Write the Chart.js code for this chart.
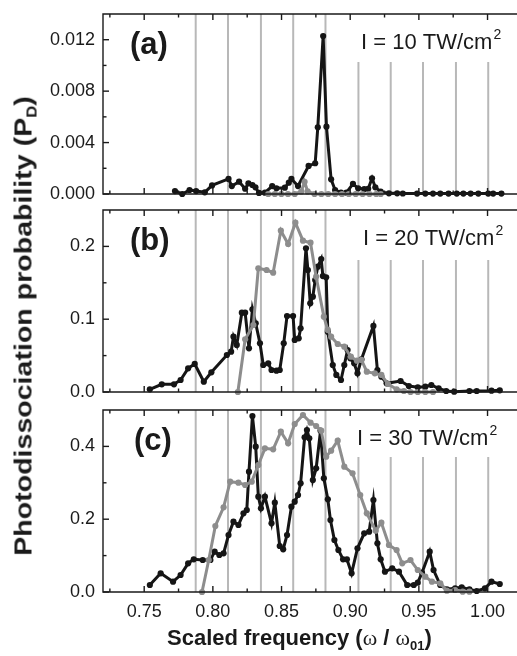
<!DOCTYPE html>
<html>
<head>
<meta charset="utf-8">
<script src="https://cdn.jsdelivr.net/npm/chart.js@4.4.0/dist/chart.umd.min.js"></script>
<style>
  html, body { margin: 0; padding: 0; background: #fff; overflow: hidden; }
  #wrap { position: relative; width: 517px; height: 656px; overflow: hidden; }
  canvas { position: absolute; left: 0; }
  .axis-title {
    position: absolute;
    font-family: "Liberation Sans", Arial, Helvetica, sans-serif;
    font-weight: bold;
    color: #1a1a1a;
    white-space: nowrap;
    line-height: 1;
  }
  .omega { font-family: "Liberation Serif", "Times New Roman", serif; font-weight: normal; }
  #xtitle { left: 167px; top: 627px; font-size: 22px; }
  #xtitle sub { font-size: 13px; vertical-align: -5px; }
  #ytitle {
    left: 25px; top: 326px; font-size: 24px;
    transform: translate(-50%, -50%) rotate(-90deg) scaleX(1.19);
  }
  #ytitle sub { font-size: 14px; vertical-align: -5px; }
</style>
</head>
<body>
<div id="wrap">
  <canvas id="panelA" width="519" height="208" style="top:0"></canvas>
  <canvas id="panelB" width="519" height="212" style="top:196px"></canvas>
  <canvas id="panelC" width="519" height="260" style="top:396px"></canvas>
  <div id="ytitle" class="axis-title">Photodissociation probability (P<sub>D</sub>)</div>
  <div id="xtitle" class="axis-title">Scaled frequency (<span class="omega">ω</span> / <span class="omega">ω</span><sub>01</sub>)</div>
</div>
<script>
const FONT = '"Liberation Sans", Arial, Helvetica, sans-serif';
const BLACK = "#151515";
const GRAY = "#8d8d8d";

// axis ticks
const xTicks = [0.75, 0.8, 0.85, 0.9, 0.95, 1.0];
const xMinorTicks = [0.725, 0.775, 0.825, 0.875, 0.925, 0.975];
const yTicksA = [0, 0.004, 0.008, 0.012];
const yMinorA = [0.002, 0.006, 0.01];
const yTicksB = [0, 0.1, 0.2];
const yMinorB = [0.05, 0.15];
const yTicksC = [0, 0.2, 0.4];
const yMinorC = [0.1, 0.3];

// vertical reference lines (scaled frequency)
const resonances = [0.7875, 0.811, 0.835, 0.8585, 0.882, 0.906, 0.9295, 0.953, 0.977, 1.0005];

// (a) I = 10 TW/cm2 : [frequency, probability]
const blackA = [
  [0.7724, 0.00023], [0.7777, 0.0], [0.783, 0.00031], [0.7878, 0.00023], [0.7941, 0.00013],
  [0.7994, 0.00067], [0.8114, 0.00117], [0.8138, 0.00062], [0.8191, 0.00096], [0.8235, 0.00041],
  [0.8259, 0.00083], [0.8288, 0.0007], [0.831, 0.00052], [0.8336, 0.00008], [0.8379, 0.0001],
  [0.8432, 0.00062], [0.8463, 0.00044], [0.8524, 0.00049], [0.8553, 0.00088], [0.8572, 0.00117],
  [0.862, 0.00062], [0.8697, 0.00218], [0.8745, 0.00239], [0.8764, 0.00519], [0.8803, 0.01229],
  [0.8827, 0.00524], [0.8861, 0.00114], [0.889, 0.00031], [0.8933, 0.0001], [0.8972, 0.0001],
  [0.902, 0.00078], [0.9058, 0.00044], [0.9102, 0.00039], [0.9131, 0.00041], [0.9159, 0.00122],
  [0.9183, 0.00052], [0.9222, 0.00018], [0.9282, 0.00005], [0.9342, 0.00005], [0.9383, 0.00004],
  [0.9487, 0.00003], [0.9547, 0.00003], [0.9603, 0.00003], [0.9656, 0.00003], [0.9716, 0.00003],
  [0.9776, 0.00003], [0.9824, 0.00003], [0.9877, 0.00003], [0.9933, 0.00003], [1.0005, 0.00003],
  [1.0041, 0.00003], [1.0101, 0.00003]
];
const grayA = [
  [0.8403, 0], [0.8451, 0], [0.8499, 0], [0.8547, 0], [0.8596, 0], [0.8644, 0.0002],
  [0.8668, 0.00095], [0.869, 0.0002], [0.874, 0], [0.879, 0], [0.884, 0], [0.889, 0],
  [0.894, 0], [0.899, 0], [0.904, 0], [0.909, 0], [0.914, 0], [0.919, 0], [0.9222, 0]
];

// (b) I = 20 TW/cm2
const blackB = [
  [0.7541, 0.0037], [0.7628, 0.0105], [0.7717, 0.0105], [0.7765, 0.0165], [0.782, 0.0325],
  [0.7868, 0.0385], [0.7934, 0.0142], [0.7989, 0.027], [0.8102, 0.0508], [0.8133, 0.0554],
  [0.815, 0.076], [0.8174, 0.0646], [0.8211, 0.109], [0.8235, 0.109], [0.8263, 0.06],
  [0.8288, 0.1136], [0.8312, 0.0943], [0.8343, 0.0668], [0.8367, 0.0371], [0.8403, 0.0394],
  [0.8427, 0.0302], [0.8463, 0.0293], [0.8487, 0.0302], [0.8516, 0.0668], [0.854, 0.1044],
  [0.8584, 0.1044], [0.8596, 0.0714], [0.8625, 0.0737], [0.8639, 0.0875], [0.8678, 0.1973],
  [0.8692, 0.1676], [0.8709, 0.1218], [0.8728, 0.131], [0.8745, 0.1538], [0.8764, 0.1722],
  [0.8789, 0.1827], [0.8801, 0.1593], [0.8825, 0.1575], [0.8837, 0.0829], [0.8873, 0.0371],
  [0.8899, 0.0234], [0.8933, 0.0165], [0.8957, 0.0371], [0.8981, 0.0577], [0.9001, 0.0462],
  [0.9029, 0.0394], [0.9053, 0.0256], [0.9082, 0.0449], [0.9169, 0.0907], [0.9198, 0.0302],
  [0.9227, 0.0211], [0.9265, 0.0119], [0.9367, 0.0151], [0.9427, 0.0082], [0.9492, 0.0064],
  [0.9547, 0.0073], [0.9591, 0.0096], [0.9644, 0.005], [0.9699, 0.0014], [0.9757, 0.0005],
  [0.9868, 0.0014], [0.9921, 0.0014], [1.0029, 0.0018], [1.0089, 0.0023]
];
const grayB = [
  [0.8182, 0], [0.8235, 0.0723], [0.8295, 0.092], [0.8331, 0.1699], [0.8391, 0.1676],
  [0.8439, 0.1639], [0.8495, 0.2216], [0.8548, 0.2033], [0.8601, 0.2326], [0.8656, 0.2079],
  [0.8711, 0.2051], [0.8752, 0.1584], [0.8808, 0.1035], [0.8837, 0.0852], [0.8861, 0.076],
  [0.8909, 0.0659], [0.8957, 0.0623], [0.9005, 0.0485], [0.9049, 0.043], [0.9082, 0.044],
  [0.9121, 0.0279], [0.9179, 0.0256], [0.9227, 0.0234], [0.9275, 0.011], [0.9338, 0.0037],
  [0.9391, 0.0014], [0.9439, 0], [0.9492, 0], [0.9547, 0], [0.9603, 0]
];

// (c) I = 30 TW/cm2
const blackC = [
  [0.7541, 0.0192], [0.762, 0.0513], [0.771, 0.0284], [0.7765, 0.0467], [0.782, 0.0788],
  [0.7861, 0.0897], [0.7926, 0.0879], [0.7982, 0.0879], [0.8013, 0.1108], [0.8047, 0.1016],
  [0.8078, 0.1062], [0.8114, 0.1566], [0.815, 0.1932], [0.8186, 0.1841], [0.8223, 0.2161],
  [0.8247, 0.2253], [0.8263, 0.3306], [0.8288, 0.4835], [0.8312, 0.3993], [0.8331, 0.2619],
  [0.835, 0.2299], [0.8379, 0.2619], [0.8427, 0.1886], [0.8451, 0.2454], [0.8487, 0.1264],
  [0.8512, 0.1172], [0.854, 0.1566], [0.8572, 0.2344], [0.8596, 0.2482], [0.862, 0.2665],
  [0.8639, 0.2985], [0.8668, 0.4249], [0.8685, 0.4451], [0.8702, 0.4222], [0.8728, 0.3077],
  [0.8752, 0.3397], [0.8784, 0.4432], [0.8808, 0.3123], [0.8837, 0.2546], [0.8856, 0.1978],
  [0.8885, 0.1429], [0.8914, 0.1154], [0.8948, 0.0897], [0.8976, 0.0897], [0.901, 0.0513],
  [0.9053, 0.12], [0.9102, 0.1612], [0.9138, 0.1658], [0.9169, 0.2527], [0.9198, 0.1337],
  [0.9222, 0.0897], [0.9253, 0.0559], [0.9306, 0.065], [0.9355, 0.0559], [0.9415, 0.0192],
  [0.9463, 0.0192], [0.9492, 0.0256], [0.9523, 0.0531], [0.9579, 0.1108], [0.9607, 0.0604],
  [0.9656, 0.0192], [0.9704, 0.0073], [0.9764, 0.0101], [0.9812, 0.0128], [0.9868, 0.0073],
  [0.9921, 0.0027], [0.9981, 0.0101], [1.0029, 0.0284], [1.0089, 0.022]
];
const grayC = [
  [0.7921, 0], [0.797, 0.0879], [0.8018, 0.1813], [0.8078, 0.2326], [0.8126, 0.3031],
  [0.8186, 0.3004], [0.8235, 0.294], [0.8283, 0.3031], [0.8331, 0.3489], [0.8379, 0.3947],
  [0.8439, 0.3919], [0.8495, 0.4405], [0.8548, 0.4084], [0.8596, 0.4615], [0.8656, 0.4863],
  [0.8711, 0.4652], [0.8752, 0.456], [0.8789, 0.4432], [0.8825, 0.3718], [0.8861, 0.3883],
  [0.8909, 0.4158], [0.8957, 0.3443], [0.9017, 0.326], [0.9073, 0.2665], [0.9121, 0.2161],
  [0.9186, 0.1685], [0.9227, 0.1905], [0.9282, 0.1291], [0.9338, 0.1154], [0.9379, 0.0788],
  [0.9439, 0.0879], [0.9492, 0.0604], [0.9547, 0.0421], [0.9595, 0.0284], [0.9656, 0.0238],
  [0.9704, 0.0037], [0.9764, 0.0055], [0.9819, 0.001], [0.9868, 0.001]
];

function line(ctx, x1, y1, x2, y2) {
  ctx.beginPath();
  ctx.moveTo(x1, y1);
  ctx.lineTo(x2, y2);
  ctx.stroke();
}

// frame, inward ticks, resonance lines and panel labels
function decor(cfg) {
  return {
    id: "decor",
    beforeDatasetsDraw(chart) {
      const { ctx, chartArea: a, scales } = chart;
      ctx.save();
      ctx.strokeStyle = "#b8b8b8";
      ctx.lineWidth = 2;
      resonances.forEach((v) => {
        const px = scales.x.getPixelForValue(v);
        const top = v > 0.9 ? a.top + cfg.gapBelow : a.top;
        line(ctx, px, top, px, a.bottom);
      });
      ctx.restore();
    },
    afterDatasetsDraw(chart) {
      const { ctx, chartArea: a, scales } = chart;
      const x = scales.x, y = scales.y;
      ctx.save();
      ctx.strokeStyle = "#1a1a1a";
      ctx.lineWidth = 1.4;
      ctx.beginPath();
      ctx.moveTo(a.right + 5, a.top);
      ctx.lineTo(a.left, a.top);
      ctx.lineTo(a.left, a.bottom);
      ctx.lineTo(a.right + 5, a.bottom);
      ctx.stroke();

      xTicks.forEach((v) => {
        const px = x.getPixelForValue(v);
        line(ctx, px, a.top, px, a.top + 6);
        line(ctx, px, a.bottom, px, a.bottom - 6);
      });
      xMinorTicks.forEach((v) => {
        const px = x.getPixelForValue(v);
        line(ctx, px, a.top, px, a.top + 3.5);
        line(ctx, px, a.bottom, px, a.bottom - 3.5);
      });
      cfg.yTicks.forEach((v) => {
        const py = y.getPixelForValue(v);
        line(ctx, a.left, py, a.left + 6, py);
      });
      cfg.yMinor.forEach((v) => {
        const py = y.getPixelForValue(v);
        line(ctx, a.left, py, a.left + 3.5, py);
      });

      ctx.fillStyle = "#1a1a1a";
      ctx.textBaseline = "alphabetic";
      ctx.textAlign = "left";
      ctx.font = "bold 31px " + FONT;
      ctx.fillText(cfg.tag, a.left + cfg.tagX, a.top + 40);

      ctx.font = "22px " + FONT;
      const txt = "I = " + cfg.intensity + " TW/cm";
      const tx = a.left + cfg.labelX;
      const ty = a.top + 35;
      ctx.fillText(txt, tx, ty);
      const w = ctx.measureText(txt).width;
      ctx.font = "14px " + FONT;
      ctx.fillText("2", tx + w + 1, ty - 10);
      ctx.restore();
    }
  };
}

function makePanel(id, cfg) {
  const pts = (arr) => arr.map((p) => ({ x: p[0], y: p[1] }));
  const series = (arr, color) => ({
    data: pts(arr),
    borderColor: color,
    backgroundColor: color,
    borderWidth: 3,
    pointRadius: 3.1,
    pointBorderWidth: 0,
    pointBackgroundColor: color,
    tension: 0,
    clip: false
  });
  return new Chart(document.getElementById(id), {
    type: "line",
    data: {
      datasets: [series(cfg.gray, GRAY), series(cfg.black, BLACK)]
    },
    options: {
      responsive: false,
      animation: false,
      events: [],
      layout: { padding: cfg.padding },
      plugins: { legend: { display: false }, tooltip: { enabled: false } },
      scales: {
        x: {
          type: "linear",
          min: 0.72,
          max: 1.02,
          display: cfg.showX,
          grid: { display: false, drawTicks: false },
          border: { display: false },
          ticks: {
            font: { family: FONT, size: 18 },
            color: "#1a1a1a",
            padding: 9,
            maxRotation: 0,
            callback: (v) => Number(v).toFixed(2)
          },
          afterBuildTicks: (s) => { s.ticks = xTicks.map((v) => ({ value: v })); },
          afterFit: (s) => {
            s.height = cfg.showX ? 40 : 0;
            s.paddingLeft = 0;
            s.paddingRight = 0;
          }
        },
        y: {
          type: "linear",
          min: 0,
          max: cfg.yMax,
          grid: { display: false, drawTicks: false },
          border: { display: false },
          ticks: {
            font: { family: FONT, size: 18 },
            color: "#1a1a1a",
            padding: 8,
            callback: (v) => Number(v).toFixed(cfg.digits)
          },
          afterBuildTicks: (s) => { s.ticks = cfg.yTicks.map((v) => ({ value: v })); },
          afterFit: (s) => {
            s.width = 103;
            s.paddingTop = 0;
            s.paddingBottom = 0;
          }
        }
      }
    },
    plugins: [decor(cfg)]
  });
}

makePanel("panelA", {
  black: blackA, gray: grayA, yMax: 0.014, yTicks: yTicksA, yMinor: yMinorA, digits: 3,
  tag: "(a)", tagX: 27, intensity: 10, labelX: 258, gapBelow: 48,
  showX: false, padding: { top: 14, bottom: 14, left: 0, right: 0 }
});
makePanel("panelB", {
  black: blackB, gray: grayB, yMax: 0.25, yTicks: yTicksB, yMinor: yMinorB, digits: 1,
  tag: "(b)", tagX: 27, intensity: 20, labelX: 260, gapBelow: 50,
  showX: false, padding: { top: 14, bottom: 16, left: 0, right: 0 }
});
makePanel("panelC", {
  black: blackC, gray: grayC, yMax: 0.5, yTicks: yTicksC, yMinor: yMinorC, digits: 1,
  tag: "(c)", tagX: 31, intensity: 30, labelX: 254, gapBelow: 47,
  showX: true, padding: { top: 14, bottom: 24, left: 0, right: 0 }
});
</script>
</body>
</html>
